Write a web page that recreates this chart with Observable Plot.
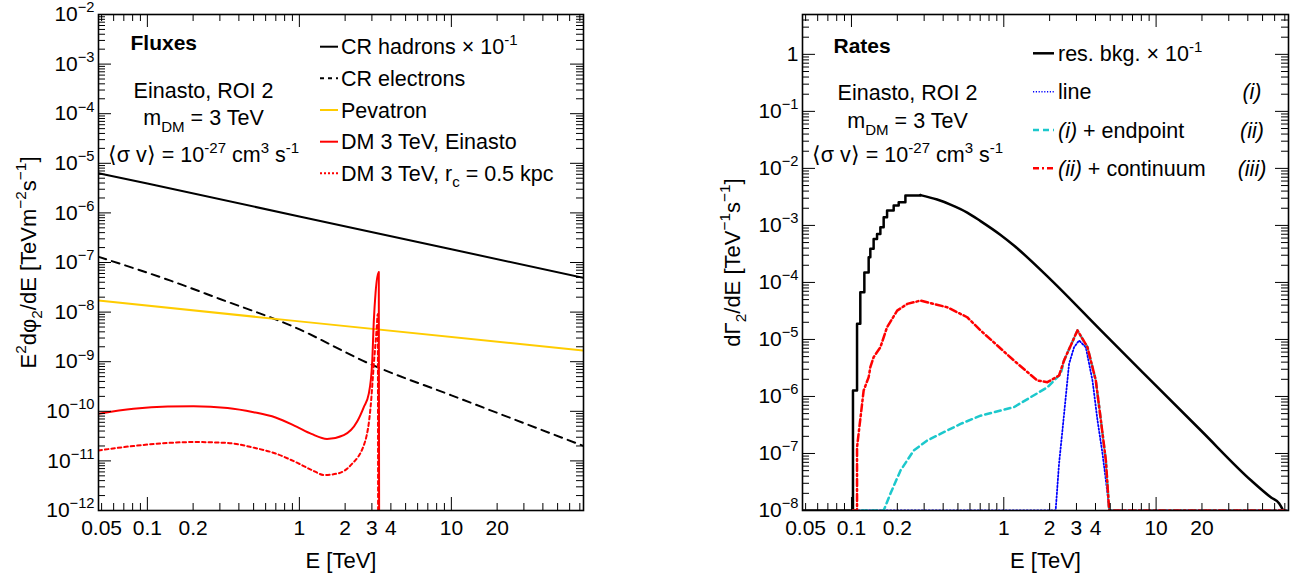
<!DOCTYPE html>
<html><head><meta charset="utf-8">
<script src="https://cdn.jsdelivr.net/npm/d3@7"></script>
<script src="https://cdn.jsdelivr.net/npm/@observablehq/plot@0.6"></script>
<style>
body{margin:0;background:#fff;}
#wrap{position:relative;width:1299px;height:576px;display:flex;background:#fff;}
#wrap svg{font-family:"Liberation Sans",Arial,Helvetica,sans-serif;}
</style></head><body><div id="wrap"></div>
<script>
// ---------- shared x axis ----------
const xDomain = [0.0477, 74];
const xMajorTicks = [0.1, 1, 10];
const xMinorTicks = [0.05,0.06,0.07,0.08,0.09,0.2,0.3,0.4,0.5,0.6,0.7,0.8,0.9,2,3,4,5,6,7,8,9,20,30,40,50,60,70];
const xTickLabels = [0.05, 0.1, 0.2, 1, 2, 3, 4, 10, 20];

// ---------- left panel: fluxes ----------
const fluxDecades = [-12,-11,-10,-9,-8,-7,-6,-5,-4,-3,-2];
const hadronE = [0.0477, 0.1, 1, 10, 74];
const hadronV = [6.3e-6, 3.9e-6, 8.5e-7, 1.85e-7, 4.9e-8];
const electronE = [0.0477, 0.142, 0.3, 0.874, 3.07, 10, 74];
const electronV = [1.3e-7, 4.3e-8, 1.84e-8, 5.4e-9, 8.4e-10, 2.1e-10, 2.0e-11];
const pevatronE = [0.0477, 1, 74];
const pevatronV = [1.71e-8, 6.5e-9, 1.68e-9];
const dmEinE = [0.0477, 0.081, 0.136, 0.201, 0.337, 0.50, 0.697, 0.957, 1.2, 1.52, 1.96, 2.40, 2.65, 2.86, 3.01, 3.09, 3.17, 3.33, 3.35];
const dmEinV = [8.9e-11, 1.12e-10, 1.25e-10, 1.27e-10, 1.17e-10, 9.6e-11, 7.5e-11, 4.9e-11, 3.5e-11, 2.77e-11, 3.3e-11, 6.2e-11, 1.2e-10, 2.25e-10, 9.1e-10, 6.8e-9, 2.4e-8, 6.4e-8, 1e-13];
const dmCoreE = [0.0477, 0.081, 0.136, 0.201, 0.337, 0.50, 0.697, 0.957, 1.2, 1.46, 1.8, 2.17, 2.72, 2.94, 3.09, 3.22, 3.28, 3.30];
const dmCoreV = [1.62e-11, 2.0e-11, 2.3e-11, 2.4e-11, 2.3e-11, 1.85e-11, 1.41e-11, 9.3e-12, 6.6e-12, 5.2e-12, 5.6e-12, 8.1e-12, 2.6e-11, 1.2e-10, 9.1e-10, 4.3e-9, 9.2e-9, 1e-13];

// ---------- right panel: rates ----------
const rateDecades = [-8,-7,-6,-5,-4,-3,-2,-1,0];
const bkgRiseE = [0.0477, 0.1023, 0.1088, 0.1143, 0.1215, 0.1297, 0.133, 0.1398, 0.1472, 0.1548, 0.1627, 0.1713, 0.1893, 0.2042, 0.226, 0.2836];
const bkgRiseV = [1e-8, 1.27e-6, 1.88e-5, 6.7e-5, 1.5e-4, 2.77e-4, 3.9e-4, 5.8e-4, 7.1e-4, 9.3e-4, 1.39e-3, 1.82e-3, 2.23e-3, 2.55e-3, 3.34e-3, 3.4e-3];
const bkgTailE = [0.2836, 0.3652, 0.4468, 0.5755, 0.7039, 0.953, 1.166, 2.033, 4.34, 9.25, 19.7, 42.1, 56.9, 64.3, 68.3];
const bkgTailV = [3.4e-3, 2.84e-3, 2.32e-3, 1.68e-3, 1.19e-3, 6.8e-4, 4.44e-4, 1.12e-4, 1.44e-5, 1.9e-6, 2.53e-7, 3.36e-8, 1.69e-8, 1.33e-8, 1e-8];
const lineE = [0.1, 2.19, 2.305, 2.427, 2.551, 2.683, 2.894, 3.121, 3.455, 3.823, 4.124, 4.449, 4.8, 4.92, 74];
const lineV = [1e-8, 1e-8, 6.6e-8, 2.53e-7, 9.7e-7, 3.74e-6, 7.3e-6, 9.6e-6, 7.3e-6, 1.9e-6, 3.8e-7, 9.9e-8, 1.96e-8, 1e-8, 1e-8];
const endpointE = [0.1, 0.1627, 0.18, 0.2096, 0.2563, 0.314, 0.52, 0.7039, 1.166, 1.934, 2.365, 2.486, 3.046, 3.544, 4.02, 4.34, 4.68, 4.92, 74];
const endpointV = [1e-8, 1e-8, 1.96e-8, 5.0e-8, 1.13e-7, 1.69e-7, 3.3e-7, 4.6e-7, 6.5e-7, 1.45e-6, 2.5e-6, 4.27e-6, 1.44e-5, 7.3e-6, 1.9e-6, 3.8e-7, 7.5e-8, 1e-8, 1e-8];
const continuumE = [0.1, 0.1088, 0.1088, 0.1202, 0.1297, 0.133, 0.1398, 0.1548, 0.1713, 0.1995, 0.2325, 0.2836, 0.425, 0.5755, 0.7039, 1.166, 1.662, 1.934, 2.305, 2.486, 3.046, 3.544, 4.02, 4.34, 4.68, 4.92, 74];
const continuumV = [1e-8, 1e-8, 1.29e-7, 1.27e-6, 2.18e-6, 3.26e-6, 4.9e-6, 7.3e-6, 1.64e-5, 3.2e-5, 4.2e-5, 4.8e-5, 3.67e-5, 2.45e-5, 1.44e-5, 4.27e-6, 1.9e-6, 1.78e-6, 2.33e-6, 4.27e-6, 1.44e-5, 7.3e-6, 1.9e-6, 3.8e-7, 7.5e-8, 1e-8, 1e-8];

// ---------- helpers ----------
const zip = (E, V) => E.map((e, i) => ({e, v: V[i]}));
const minorOf = (decades) => {
  const out = [];
  for (const n of decades.slice(0, -1)) for (let k = 2; k <= 9; k++) out.push(k * 10 ** n);
  return out;
};
const expFmt = (v) => {
  const n = Math.round(Math.log10(v));
  return n === 0 ? "1" : "10^{\u2212" + (-n) + "}";
};
const FONT = '"Liberation Sans", Arial, Helvetica, sans-serif';
const T = (s, o) => Plot.text([s], {text: d => d, ...o});

function frameMarks(majorY, minorY, fw, fh) {
  return [
    Plot.tickX(xMajorTicks, {x: d => d, insetTop: fh - 13, stroke: "black"}),
    Plot.tickX(xMinorTicks, {x: d => d, insetTop: fh - 7, stroke: "black"}),
    Plot.tickX(xMajorTicks, {x: d => d, insetBottom: fh - 13, stroke: "black"}),
    Plot.tickX(xMinorTicks, {x: d => d, insetBottom: fh - 7, stroke: "black"}),
    Plot.tickY(majorY, {y: d => d, insetRight: fw - 13, stroke: "black"}),
    Plot.tickY(minorY, {y: d => d, insetRight: fw - 7, stroke: "black"}),
    Plot.tickY(majorY, {y: d => d, insetLeft: fw - 13, stroke: "black"}),
    Plot.tickY(minorY, {y: d => d, insetLeft: fw - 7, stroke: "black"}),
    Plot.text(xTickLabels, {x: d => d, text: d => String(d), frameAnchor: "bottom", dy: 10, lineAnchor: "top", textAnchor: "middle", fontSize: 21}),
    Plot.axisY({anchor: "left", ticks: majorY, tickSize: 0, tickPadding: 4, tickFormat: expFmt, label: null, fontSize: 21}),
    Plot.frame({stroke: "black", strokeWidth: 1.6})
  ];
}
const mid = {textAnchor: "middle", lineAnchor: "middle"};

// ---------- left plot ----------
const L = {left: 98, right: 67, top: 14, bottom: 66, width: 650};
const fluxMajor = fluxDecades.map(n => 10 ** n);
const leftPlot = Plot.plot({
  width: L.width, height: 576,
  marginLeft: L.left, marginRight: L.right, marginTop: L.top, marginBottom: L.bottom,
  x: {type: "log", domain: xDomain, axis: null},
  y: {type: "log", domain: [1e-12, 1e-2]},
  style: {fontFamily: FONT, fontSize: "21px", color: "black", background: "white", overflow: "visible"},
  marks: [
    Plot.line(zip(hadronE, hadronV), {x: "e", y: "v", stroke: "black", strokeWidth: 2, clip: true}),
    Plot.line(zip(electronE, electronV), {x: "e", y: "v", stroke: "black", strokeWidth: 2, strokeDasharray: "8,6", curve: "monotone-x", clip: true}),
    Plot.line(zip(pevatronE, pevatronV), {x: "e", y: "v", stroke: "#ffcc00", strokeWidth: 2, clip: true}),
    Plot.line(zip(dmCoreE, dmCoreV), {x: "e", y: "v", stroke: "#ff0000", strokeWidth: 2, strokeDasharray: "3.5,3", curve: "monotone-x", clip: true}),
    Plot.line(zip(dmEinE, dmEinV), {x: "e", y: "v", stroke: "#ff0000", strokeWidth: 2, curve: "monotone-x", clip: true}),
    ...frameMarks(fluxMajor, minorOf(fluxDecades), 650 - L.left - L.right, 576 - L.top - L.bottom),
    T("E [TeV]", {frameAnchor: "bottom", dy: 50, fontSize: 22, ...mid}),
    T("E^{2}d\u03c6_{2}/dE [TeVm^{\u22122}s^{\u22121}]", {frameAnchor: "left", dx: -70, rotate: -90, fontSize: 22, ...mid}),
    T("Fluxes", {frameAnchor: "top-left", dx: 32, dy: 28.5, textAnchor: "start", lineAnchor: "middle", fontWeight: "bold", fontSize: 21}),
    T("Einasto, ROI 2", {frameAnchor: "top-left", dx: 105, dy: 77, fontSize: 21.5, ...mid}),
    T("m_{DM} = 3 TeV", {frameAnchor: "top-left", dx: 105, dy: 104, fontSize: 21.5, ...mid}),
    T("\u27e8\u03c3 v\u27e9 = 10^{-27} cm^{3} s^{-1}", {frameAnchor: "top-left", dx: 105, dy: 141, fontSize: 21.5, ...mid})
  ]
});

// ---------- right plot ----------
const R = {left: 152, right: 11, top: 14, bottom: 66, width: 649};
const rateMajor = rateDecades.map(n => 10 ** n);
const rateMinor = minorOf(rateDecades).concat([2, 3, 4, 5]);
const rightPlot = Plot.plot({
  width: R.width, height: 576,
  marginLeft: R.left, marginRight: R.right, marginTop: R.top, marginBottom: R.bottom,
  x: {type: "log", domain: xDomain, axis: null},
  y: {type: "log", domain: [1e-8, 5]},
  style: {fontFamily: FONT, fontSize: "21px", color: "black", background: "white", overflow: "visible"},
  marks: [
    Plot.line(zip(bkgRiseE, bkgRiseV), {x: "e", y: "v", stroke: "black", strokeWidth: 2.5, curve: "step-after", clip: true}),
    Plot.line(zip(bkgTailE, bkgTailV), {x: "e", y: "v", stroke: "black", strokeWidth: 2.5, curve: "monotone-x", clip: true}),
    Plot.line(zip(lineE, lineV), {x: "e", y: "v", stroke: "#0000ff", strokeWidth: 1.8, strokeDasharray: "1.5,2", clip: true}),
    Plot.line(zip(endpointE, endpointV), {x: "e", y: "v", stroke: "#1cc8cc", strokeWidth: 2.5, strokeDasharray: "6,4", clip: true}),
    Plot.line(zip(continuumE, continuumV), {x: "e", y: "v", stroke: "#ff0000", strokeWidth: 2.5, strokeDasharray: "7,3,2,3", clip: true}),
    ...frameMarks(rateMajor, rateMinor, 649 - R.left - R.right, 576 - R.top - R.bottom),
    T("E [TeV]", {frameAnchor: "bottom", dy: 50, fontSize: 22, ...mid}),
    T("d\u0393_{2}/dE [TeV^{\u22121}s^{\u22121}]", {frameAnchor: "left", dx: -70, rotate: -90, fontSize: 22, ...mid}),
    T("Rates", {frameAnchor: "top-left", dx: 31, dy: 32, textAnchor: "start", lineAnchor: "middle", fontWeight: "bold", fontSize: 21}),
    T("Einasto, ROI 2", {frameAnchor: "top-left", dx: 105, dy: 78.5, fontSize: 21.5, ...mid}),
    T("m_{DM} = 3 TeV", {frameAnchor: "top-left", dx: 105, dy: 107, fontSize: 21.5, ...mid}),
    T("\u27e8\u03c3 v\u27e9 = 10^{-27} cm^{3} s^{-1}", {frameAnchor: "top-left", dx: 105, dy: 141, fontSize: 21.5, ...mid})
  ]
});

const wrap = document.getElementById("wrap");
wrap.appendChild(leftPlot);
wrap.appendChild(rightPlot);

// ---------- legends ----------
const fluxLegend = [
  {label: "CR hadrons \u00d7 10^{-1}", color: "black", width: 2},
  {label: "CR electrons", color: "black", width: 2, dash: "4,4"},
  {label: "Pevatron", color: "#ffcc00", width: 2},
  {label: "DM 3 TeV, Einasto", color: "#ff0000", width: 2},
  {label: "DM 3 TeV, r_{c} = 0.5 kpc", color: "#ff0000", width: 2, dash: "2,2"}
];
const rateLegend = [
  {label: "res. bkg. \u00d7 10^{-1}", color: "black", width: 2.5},
  {label: "line", color: "#0000ff", width: 1.5, dash: "1.2,1.6", tag: "(i)"},
  {label: "#it{(i)} + endpoint", color: "#1cc8cc", width: 2.5, dash: "6,4", tag: "(ii)"},
  {label: "#it{(ii)} + continuum", color: "#ff0000", width: 2.5, dash: "6,3,2,3", tag: "(iii)"}
];
function addLegend(svg, m, items, o) {
  const g = d3.select(svg).append("g").attr("font-family", FONT).attr("font-size", o.fs).attr("fill", "black");
  items.forEach((it, i) => {
    const y = m.top + o.rows[i];
    g.append("line").attr("x1", m.left + o.x0).attr("x2", m.left + o.x1).attr("y1", y).attr("y2", y)
      .attr("stroke", it.color).attr("stroke-width", it.width).attr("stroke-dasharray", it.dash || null);
    g.append("text").attr("x", m.left + o.tx).attr("y", y).attr("dy", "0.35em")
      .attr("text-anchor", "start").text(it.label);
    if (it.tag) g.append("text").attr("x", m.left + o.tagX).attr("y", y).attr("dy", "0.35em")
      .attr("text-anchor", "middle").attr("font-style", "italic").text(it.tag);
  });
}
addLegend(leftPlot, L, fluxLegend, {fs: 21.5, x0: 222, x1: 240, tx: 243, rows: [32.7, 64.3, 96, 127.7, 159.3]});
addLegend(rightPlot, R, rateLegend, {fs: 21.5, x0: 231, x1: 252, tx: 256, tagX: 450, rows: [39.3, 77.7, 116, 154.3]});

// ---------- rich text (super/subscripts, italics) ----------
function richify(el) {
  const s = el.textContent;
  if (!/[\^_]\{|#it\{/.test(s)) return;
  const fs = parseFloat(getComputedStyle(el).fontSize) || 20;
  while (el.firstChild) el.removeChild(el.firstChild);
  let cur = 0;
  for (const p of s.split(/(\^\{[^}]*\}|_\{[^}]*\}|#it\{[^}]*\})/)) {
    if (!p) continue;
    let txt = p, off = 0, size = null, italic = false;
    if (p.startsWith("^{")) { txt = p.slice(2, -1); off = -0.42 * fs; size = 0.7 * fs; }
    else if (p.startsWith("_{")) { txt = p.slice(2, -1); off = 0.3 * fs; size = 0.7 * fs; }
    else if (p.startsWith("#it{")) { txt = p.slice(4, -1); italic = true; }
    const ts = document.createElementNS("http://www.w3.org/2000/svg", "tspan");
    if (off !== cur) ts.setAttribute("dy", (off - cur).toFixed(2));
    cur = off;
    if (size) ts.setAttribute("font-size", size.toFixed(2));
    if (italic) ts.setAttribute("font-style", "italic");
    ts.textContent = txt;
    el.appendChild(ts);
  }
}
document.querySelectorAll("#wrap svg text").forEach(richify);
</script></body></html>
